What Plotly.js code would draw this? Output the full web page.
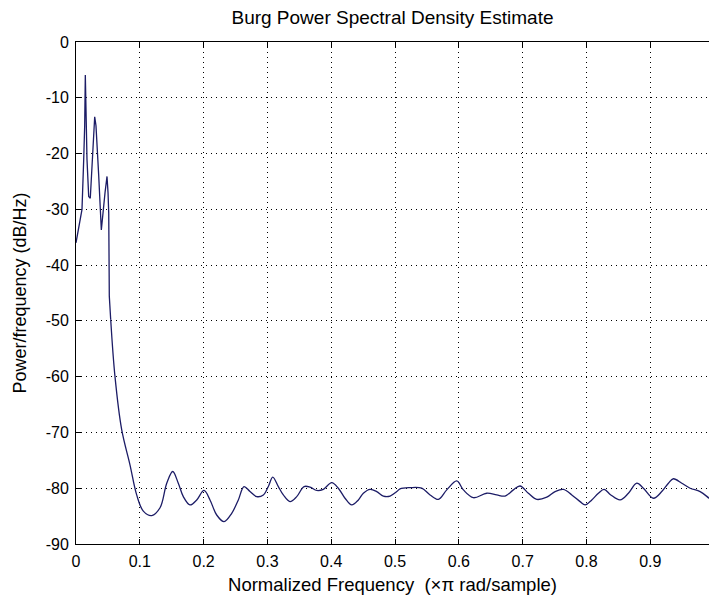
<!DOCTYPE html>
<html>
<head>
<meta charset="utf-8">
<script src="https://cdn.plot.ly/plotly-3.0.1.min.js"></script>
<style>
  html, body { margin: 0; padding: 0; background: #fff; }
  #plotDiv { width: 709px; height: 602px; }
</style>
</head>
<body>
<div id="plotDiv"></div>
<script>
// Normalized frequency (x pi rad/sample)
const freq = [
	0, 0.0042, 0.0094, 0.0121, 0.0136, 0.0146, 0.0157, 0.0172, 0.0199, 0.0224,
	0.0293, 0.0313, 0.0356, 0.0397, 0.0455, 0.0486, 0.0502, 0.0513, 0.0522, 0.0544,
	0.0611, 0.0716, 0.0846, 0.0951, 0.1055, 0.1187, 0.1317, 0.1422, 0.1516, 0.1603,
	0.1682, 0.1787, 0.1892, 0.2006, 0.21, 0.2205, 0.232, 0.244, 0.2544, 0.2633,
	0.2727, 0.2832, 0.2936, 0.3014, 0.3083, 0.3171, 0.3249, 0.3354, 0.3459, 0.3574,
	0.3668, 0.3773, 0.3876, 0.4008, 0.4111, 0.4216, 0.4321, 0.4425, 0.4503, 0.4608,
	0.4713, 0.4817, 0.4922, 0.5027, 0.5078, 0.5235, 0.5418, 0.5549, 0.5679, 0.581,
	0.5967, 0.6071, 0.6227, 0.6437, 0.6594, 0.6724, 0.6854, 0.6959, 0.7089, 0.7221,
	0.7378, 0.7508, 0.7638, 0.777, 0.79, 0.7978, 0.8083, 0.8187, 0.8276, 0.8381,
	0.8527, 0.8657, 0.8788, 0.8892, 0.9049, 0.918, 0.9284, 0.9362, 0.9494, 0.9624,
	0.9781, 0.9922, 1.0,
];

// Power/frequency in dB/Hz
const psd = [
	-36, -33, -30, -21, -15, -5.9, -14, -21, -27.7, -28,
	-13.4, -15, -24, -33.7, -27, -24.1, -27, -30.7, -45.6, -49.8,
	-60, -69.5, -75.8, -81.2, -84.1, -84.9, -83.5, -79.1, -77.0, -79.1,
	-81.5, -83.0, -82.1, -80.4, -82.1, -84.8, -86.0, -84.5, -82.1, -79.7,
	-80.6, -81.5, -81.2, -79.7, -78.0, -79.7, -81.2, -82.4, -81.5, -79.7,
	-79.8, -80.4, -80.2, -79.0, -80.0, -81.8, -83.0, -82.1, -80.9, -80.2,
	-80.6, -81.4, -81.4, -80.6, -80.1, -79.9, -80.0, -81.2, -82.0, -80.3,
	-78.7, -80.3, -81.7, -80.9, -81.2, -81.4, -80.3, -79.6, -80.9, -82.0,
	-81.6, -80.6, -80.2, -81.2, -82.4, -83.0, -82.1, -80.9, -80.2, -81.2,
	-82.1, -80.9, -79.1, -80.0, -81.8, -80.6, -79.1, -78.3, -79.1, -80.0,
	-80.6, -81.8, -82.5,
];

const xTicks = [0, 0.1, 0.2, 0.3, 0.4, 0.5, 0.6, 0.7, 0.8, 0.9];
const yTicks = [0, -10, -20, -30, -40, -50, -60, -70, -80, -90];

// sharp peaks drawn straight, smooth tail drawn as a spline
const split = 19;
const lineStyle = { color: "#1c1c66", width: 1.3 };

const peakTrace = {
	x: freq.slice(0, split + 1),
	y: psd.slice(0, split + 1),
	type: "scatter",
	mode: "lines",
	line: { ...lineStyle },
	hoverinfo: "skip",
};

const tailTrace = {
	x: freq.slice(split),
	y: psd.slice(split),
	type: "scatter",
	mode: "lines",
	line: { ...lineStyle, shape: "spline", smoothing: 1 },
	hoverinfo: "skip",
};

const fontFamily = "Liberation Sans, Arial, sans-serif";
const tickFont = { family: fontFamily, size: 16, color: "#000" };
const labelFont = { family: fontFamily, size: 18, color: "#000" };

const layout = {
	width: 709,
	height: 602,
	margin: { l: 76, r: 0, t: 42, b: 58 },
	paper_bgcolor: "#fff",
	plot_bgcolor: "#fff",
	showlegend: false,
	title: {
		text: "Burg Power Spectral Density Estimate",
		font: { family: fontFamily, size: 19, color: "#000" },
		x: 0.5,
		xanchor: "center",
		xref: "paper",
		y: 0.972,
		yanchor: "middle",
	},
	xaxis: {
		range: [0, 0.992],
		tickvals: xTicks,
		ticktext: xTicks.map(String),
		ticks: "inside",
		ticklen: 5,
		tickcolor: "#000",
		ticklabelstandoff: 3,
		showline: true,
		linecolor: "#000",
		linewidth: 1,
		mirror: "ticks",
		showgrid: true,
		gridcolor: "#000",
		gridwidth: 1,
		griddash: "1px,4px",
		zeroline: false,
		tickfont: tickFont,
		title: { text: "Normalized Frequency  (×π rad/sample)", font: { ...labelFont, size: 18.5 }, standoff: 8 },
	},
	yaxis: {
		range: [-90, 0],
		tickvals: yTicks,
		ticktext: yTicks.map(String),
		ticks: "inside",
		ticklen: 5,
		tickcolor: "#000",
		ticklabelstandoff: 3,
		showline: true,
		linecolor: "#000",
		linewidth: 1,
		showgrid: true,
		gridcolor: "#000",
		gridwidth: 1,
		griddash: "1px,4px",
		zeroline: false,
		tickfont: tickFont,
		title: { text: "Power/frequency (dB/Hz)", font: labelFont, standoff: 14 },
	},
};

Plotly.newPlot("plotDiv", [peakTrace, tailTrace], layout, { staticPlot: true });
</script>
</body>
</html>
